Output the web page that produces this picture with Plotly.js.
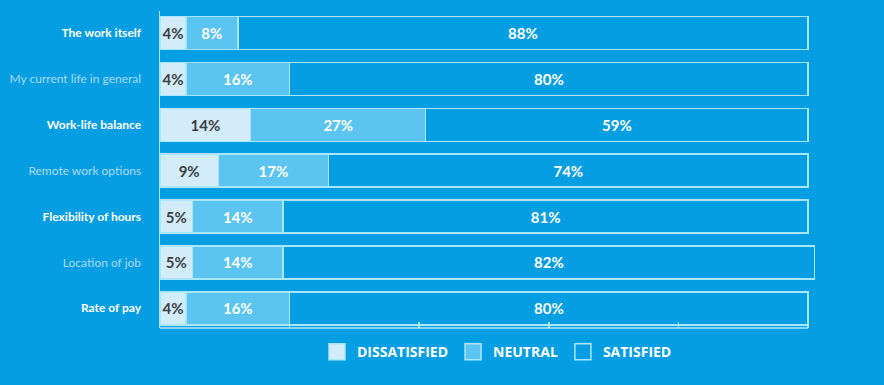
<!DOCTYPE html>
<html>
<head>
<meta charset="utf-8">
<script src="https://cdn.plot.ly/plotly-3.0.1.min.js"></script>
<style>
html,body{margin:0;padding:0;background:#069ee2;}
#chart{width:884px;height:385px;}
</style>
</head>
<body>
<div id="chart"></div>
<script>
var categories = ["The work itself", "My current life in general", "Work-life balance", "Remote work options", "Flexibility of hours", "Location of job", "Rate of pay"];
var dissatisfied = [4, 4, 14, 9, 5, 5, 4];
var neutral = [8, 16, 27, 17, 14, 14, 16];
var satisfied = [88, 80, 59, 74, 81, 82, 80];
var seriesNames = ["DISSATISFIED", "NEUTRAL", "SATISFIED"];
var xTicks = [0, 20, 40, 60, 80, 100];

var BG = "#069ee2";
var OUTLINE = "#a8e6fa";
var fills = ["#d3ecfa", "#5cc4f1", BG];
var textColors = ["#3a3f45", "#ffffff", "#ffffff"];
var FONT = "Lato, 'Open Sans', sans-serif";

var tickText = categories.map(function (c, i) {
  return i % 2 === 0 ? "<b>" + c + "</b>" : "<span style='color:#a9dcf6'>" + c + "</span>";
});

var values = [dissatisfied, neutral, satisfied];
var traces = [];
values.forEach(function (v, k) {
  traces.push({
    type: "bar",
    orientation: "h",
    y: categories,
    x: v,
    name: seriesNames[k],
    showlegend: false,
    width: 0.72,
    marker: {color: fills[k], line: {color: OUTLINE, width: 1.5}},
    text: v.map(function (d) { return d + "%"; }),
    textposition: "inside",
    insidetextanchor: "middle",
    constraintext: "none",
    textangle: 0,
    textfont: {family: FONT, size: 15, color: textColors[k], weight: 700},
    hoverinfo: "skip",
    cliponaxis: false
  });
});
// legend entries
values.forEach(function (v, k) {
  traces.push({
    type: "scatter",
    mode: "markers",
    x: [null],
    y: [null],
    name: seriesNames[k],
    showlegend: true,
    marker: {symbol: "square", size: 16, color: fills[k], line: {color: OUTLINE, width: 1.5}},
    hoverinfo: "skip"
  });
});

var layout = {
  width: 884,
  height: 385,
  barmode: "stack",
  paper_bgcolor: BG,
  plot_bgcolor: BG,
  margin: {l: 160, r: 50, t: 11, b: 57},
  font: {family: FONT, color: "#ffffff"},
  xaxis: {
    range: [0, 104],
    tickvals: xTicks,
    showticklabels: false,
    ticks: "inside",
    ticklen: 6,
    tickwidth: 1.5,
    tickcolor: OUTLINE,
    layer: "above traces",
    showgrid: false,
    zeroline: false,
    showline: false,
    fixedrange: true
  },
  yaxis: {
    type: "category",
    categoryorder: "array",
    categoryarray: categories,
    range: [6.43, -0.48],
    tickvals: categories,
    ticktext: tickText,
    ticks: "",
    ticklabelstandoff: 15,
    tickfont: {family: FONT, size: 12, color: "#ffffff"},
    showgrid: false,
    zeroline: false,
    showline: true,
    linecolor: OUTLINE,
    linewidth: 1.5,
    fixedrange: true
  },
  shapes: [{
    type: "line", xref: "x", yref: "paper",
    x0: xTicks[0], x1: xTicks[xTicks.length - 1], y0: 0, y1: 0,
    line: {color: OUTLINE, width: 1.5}
  }],
  legend: {
    orientation: "h",
    traceorder: "normal",
    x: 0.5, xanchor: "center",
    y: -0.076, yanchor: "middle",
    font: {family: "'Open Sans', Lato, sans-serif", size: 14, color: "#ffffff", weight: 700},
    bgcolor: "rgba(0,0,0,0)",
    itemclick: false, itemdoubleclick: false
  }
};

Plotly.newPlot("chart", traces, layout, {displayModeBar: false, staticPlot: true});
</script>
</body>
</html>
